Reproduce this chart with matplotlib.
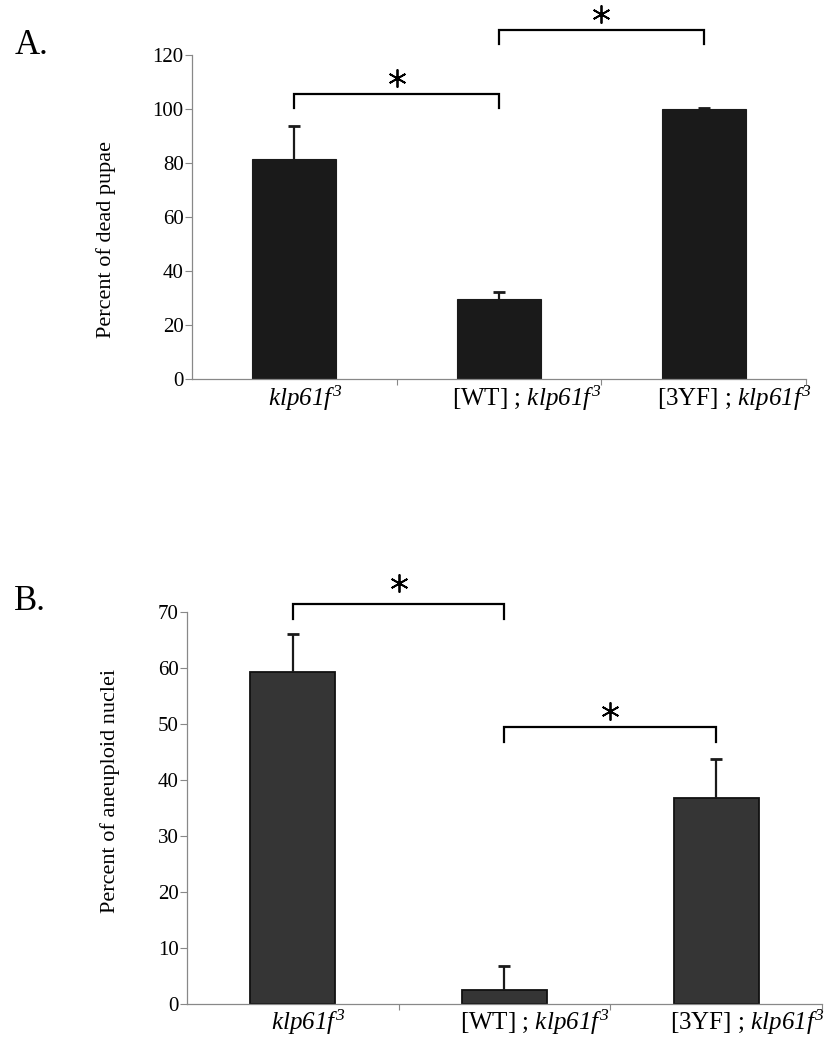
import matplotlib.pyplot as plt
import matplotlib.transforms as mtransforms
import numpy as np

plt.rcParams['font.family'] = ['Liberation Serif', 'DejaVu Serif']
plt.rcParams['mathtext.fontset'] = 'custom'
plt.rcParams['mathtext.rm'] = 'Liberation Serif:italic'
plt.rcParams['mathtext.it'] = 'Liberation Serif:italic'

# Data
genotypes = [r'$klp61f^{3}$',
             r'[WT] ; $klp61f^{3}$',
             r'[3YF] ; $klp61f^{3}$']
dead_pupae = [81.5, 29.6, 100.0]
dead_pupae_err = [12.2, 2.6, 0.3]
aneuploid = [59.3, 2.5, 36.8]
aneuploid_err = [6.8, 4.3, 7.0]

# brackets: (left bar, right bar, bracket height, drop end, star y)
brackets_a = [(0, 1, 105.6, 100.3, 111.5), (1, 2, 129.0, 124.0, 135.0)]
brackets_b = [(0, 1, 71.4, 68.7, 75.2), (1, 2, 49.5, 46.8, 52.3)]

fig = plt.figure(figsize=(8.38, 10.5), dpi=100)
ax1 = fig.add_axes([0.229, 0.639, 0.733, 0.309])
ax2 = fig.add_axes([0.223, 0.0438, 0.758, 0.3733])


def style_axis(ax, ymax, step, ylabel, label_xy, shifts):
    x = np.arange(len(genotypes))
    ax.set_xlim(-0.5, 2.5)
    ax.set_ylim(0, ymax)
    ax.set_yticks(np.arange(0, ymax + 1, step))
    ax.set_xticks(x)
    ax.set_xticklabels(genotypes, fontsize=18)
    ax.set_xticks([0.5, 1.5, 2.5], minor=True)
    ax.tick_params(axis='x', which='major', length=0, pad=3)
    ax.tick_params(axis='x', which='minor', length=4, color='#888888', width=0.8)
    ax.tick_params(axis='y', length=5, color='#888888', width=0.8, labelsize=15, pad=1)
    for s in ['top', 'right']:
        ax.spines[s].set_visible(False)
    for s in ['left', 'bottom']:
        ax.spines[s].set_color('#888888')
        ax.spines[s].set_linewidth(0.9)
    ax.set_ylabel(ylabel, fontsize=16)
    ax.yaxis.set_label_coords(*label_xy)
    # category labels sit a little right of the bar centres
    for lab, dx in zip(ax.get_xticklabels(), shifts):
        off = mtransforms.ScaledTranslation(dx / 100, 0, fig.dpi_scale_trans)
        lab.set_transform(lab.get_transform() + off)


def draw_bars(ax, vals, errs, width, fc, ec, lw):
    x = np.arange(len(vals))
    bars = ax.bar(x, vals, width=width, color=fc, edgecolor=ec, linewidth=lw,
                  yerr=[np.zeros(len(vals)), errs],
                  error_kw=dict(ecolor='#1a1a1a', elinewidth=1.6, capsize=4.5, capthick=2))
    # hide the lower caps (one-sided error bars)
    caps = bars.errorbar.lines[1]
    if caps:
        caps[0].set_visible(False)


def add_brackets(ax, brackets):
    for a, b, h, d, sy in brackets:
        ax.plot([a, a, b, b], [d, h, h, d], color='black', lw=1.6,
                clip_on=False, solid_joinstyle='miter')
        ax.plot([(a + b) / 2], [sy], marker=(6, 2, 0), ms=13, mew=1.3,
                color='black', clip_on=False)


# Panel A
draw_bars(ax1, dead_pupae, dead_pupae_err, 0.41, '#1a1a1a', '#1a1a1a', 0.8)
style_axis(ax1, 120, 20, 'Percent of dead pupae', (-0.124, 0.43), [11, 28, 31])
add_brackets(ax1, brackets_a)
fig.text(0.017, 0.957, 'A.', fontsize=25, ha='left', va='center')

# Panel B
draw_bars(ax2, aneuploid, aneuploid_err, 0.40, '#353535', '#111111', 1.3)
style_axis(ax2, 70, 10, 'Percent of aneuploid nuclei', (-0.106, 0.543), [15, 30, 31])
add_brackets(ax2, brackets_b)
fig.text(0.017, 0.427, 'B.', fontsize=25, ha='left', va='center')

fig.savefig('out.png', dpi=100)
